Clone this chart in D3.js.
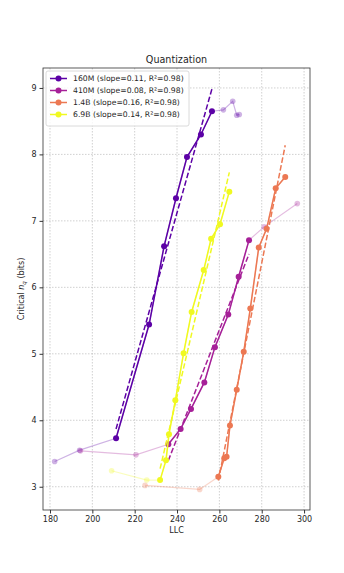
<!DOCTYPE html>
<html lang="en">
<head>
  <meta charset="UTF-8">
  <title>Quantization</title>
  <script src="https://cdn.jsdelivr.net/npm/d3@7"></script>
  <style>
    body{ margin:0; background:#fff; }
    svg text{ font-family:"DejaVu Sans", sans-serif; fill:#262626; }
    .grid line{ stroke:#b0b0b0; stroke-width:.6; stroke-dasharray:1.5,1.5; }
    .axis path, .axis line{ stroke:#333; }
  </style>
</head>
<body>
  <svg id="chart"></svg>
  <script>
    // series labels / legend
    const models = ["160M", "410M", "1.4B", "6.9B"];
    const slopes = ["0.11", "0.08", "0.16", "0.14"];
    const r2s = ["0.98", "0.98", "0.98", "0.98"];
    const colors = ["#5c01a6", "#a62098", "#ec7853", "#f0f921"];
    const xTicks = [180, 200, 220, 240, 260, 280, 300];
    const yTicks = [3, 4, 5, 6, 7, 8, 9];

    // 160M
    const low160Llc = [182.2, 194.0], low160Bits = [3.38, 3.55];
    const llc160 = [211.2, 226.8, 233.9, 239.5, 244.7, 251.3, 256.5];
    const bits160 = [3.73, 5.44, 6.62, 7.34, 7.96, 8.30, 8.65];
    const high160Llc = [261.9, 266.3, 268.2, 269.4], high160Bits = [8.67, 8.80, 8.59, 8.60];
    // 410M
    const low410Llc = [194.4, 220.6], low410Bits = [3.54, 3.48];
    const llc410 = [235.9, 241.7, 246.6, 252.9, 257.9, 264.2, 269.1, 274.0];
    const bits410 = [3.64, 3.87, 4.17, 4.57, 5.10, 5.59, 6.16, 6.71];
    const high410Llc = [281.1, 296.8], high410Bits = [6.91, 7.26];
    // 1.4B
    const low14Llc = [224.9, 250.7], low14Bits = [3.02, 2.96];
    const llc14 = [259.5, 262.3, 263.4, 265.0, 268.2, 271.5, 274.6, 278.6, 282.3, 286.6, 291.1];
    const bits14 = [3.15, 3.43, 3.45, 3.92, 4.46, 5.03, 5.68, 6.60, 6.88, 7.49, 7.66];
    const high14Llc = [], high14Bits = [];
    // 6.9B
    const low69Llc = [209.1, 225.7], low69Bits = [3.24, 3.10];
    const llc69 = [232.0, 234.8, 236.2, 239.2, 243.1, 246.9, 252.6, 256.1, 260.3, 264.7];
    const bits69 = [3.10, 3.40, 3.79, 4.30, 5.01, 5.63, 6.26, 6.73, 6.95, 7.44];
    const high69Llc = [], high69Bits = [];

    const zip = (a, b) => a.map((v, i) => [v, b[i]]);
    const series = [
      { low: zip(low160Llc, low160Bits), main: zip(llc160, bits160), high: zip(high160Llc, high160Bits) },
      { low: zip(low410Llc, low410Bits), main: zip(llc410, bits410), high: zip(high410Llc, high410Bits) },
      { low: zip(low14Llc, low14Bits), main: zip(llc14, bits14), high: zip(high14Llc, high14Bits) },
      { low: zip(low69Llc, low69Bits), main: zip(llc69, bits69), high: zip(high69Llc, high69Bits) }
    ];

    const W = 344, H = 573;
    const margin = { top: 68, right: 34, bottom: 63, left: 43 };
    const width = W - margin.left - margin.right;
    const height = H - margin.top - margin.bottom;

    const svg = d3.select("#chart").attr("width", W).attr("height", H);
    const g = svg.append("g").attr("transform", `translate(${margin.left},${margin.top})`);

    const x = d3.scaleLinear().domain([176.7, 302.8]).range([0, width]);
    const y = d3.scaleLinear().domain([2.65, 9.3]).range([height, 0]);

    // grid
    const grid = g.append("g").attr("class", "grid");
    grid.selectAll(".gx").data(xTicks).enter().append("line")
      .attr("x1", d => x(d)).attr("x2", d => x(d)).attr("y1", 0).attr("y2", height);
    grid.selectAll(".gy").data(yTicks).enter().append("line")
      .attr("y1", d => y(d)).attr("y2", d => y(d)).attr("x1", 0).attr("x2", width);

    const line = d3.line().x(d => x(d[0])).y(d => y(d[1]));

    // faded full trajectories
    series.forEach((s, i) => {
      const all = s.low.concat(s.main, s.high);
      g.append("path").datum(all)
        .attr("d", line).attr("fill", "none")
        .attr("stroke", colors[i]).attr("stroke-width", 1.2).attr("opacity", 0.3);
      g.append("g").selectAll("circle").data(s.low.concat(s.high)).enter().append("circle")
        .attr("cx", d => x(d[0])).attr("cy", d => y(d[1])).attr("r", 2.8)
        .attr("fill", colors[i]).attr("opacity", 0.3);
    });

    // solid parts + regression fit
    series.forEach((s, i) => {
      const xs = s.main.map(d => d[0]), ys = s.main.map(d => d[1]);
      const mx = d3.mean(xs), my = d3.mean(ys);
      const b = d3.sum(xs, (v, k) => (v - mx) * (ys[k] - my)) / d3.sum(xs, v => (v - mx) ** 2);
      const x0 = d3.min(xs), x1 = d3.max(xs);
      const fit = [[x0, my + b * (x0 - mx)], [x1, my + b * (x1 - mx)]];

      g.append("path").datum(s.main)
        .attr("d", line).attr("fill", "none")
        .attr("stroke", colors[i]).attr("stroke-width", 1.5);
      g.append("g").selectAll("circle").data(s.main).enter().append("circle")
        .attr("cx", d => x(d[0])).attr("cy", d => y(d[1])).attr("r", 3)
        .attr("fill", colors[i]);
      g.append("path").datum(fit)
        .attr("d", line).attr("fill", "none")
        .attr("stroke", colors[i]).attr("stroke-width", 1.5)
        .attr("stroke-dasharray", "5.5,2.4");
    });

    // axes
    g.append("g").attr("class", "axis")
      .attr("transform", `translate(0,${height})`)
      .call(d3.axisBottom(x).tickValues(xTicks).tickFormat(d3.format("d")).tickSize(3.5).tickPadding(3))
      .call(a => a.selectAll("text").attr("font-size", 8));
    g.append("g").attr("class", "axis")
      .call(d3.axisLeft(y).tickValues(yTicks).tickFormat(d3.format("d")).tickSize(3.5).tickPadding(3))
      .call(a => a.selectAll("text").attr("font-size", 8));
    g.append("rect").attr("width", width).attr("height", height)
      .attr("fill", "none").attr("stroke", "#333").attr("stroke-width", 0.8);
    g.selectAll(".axis path.domain").remove();

    // title and labels
    svg.append("text").attr("x", margin.left + width / 2).attr("y", 63)
      .attr("text-anchor", "middle").attr("font-size", 9.6).text("Quantization");
    svg.append("text").attr("x", margin.left + width / 2).attr("y", 533)
      .attr("text-anchor", "middle").attr("font-size", 8).text("LLC");
    const yl = svg.append("text").attr("text-anchor", "middle").attr("font-size", 8)
      .attr("transform", `translate(24,${margin.top + height / 2}) rotate(-90)`);
    yl.append("tspan").text("Critical ");
    yl.append("tspan").attr("font-style", "italic").text("n");
    yl.append("tspan").attr("font-style", "italic").attr("font-size", 5.6).attr("dy", 2).text("q");
    yl.append("tspan").attr("dy", -2).text(" (bits)");

    // legend
    const lg = svg.append("g").attr("transform", "translate(46,71)");
    lg.append("rect").attr("width", 143).attr("height", 55).attr("rx", 2)
      .attr("fill", "#fff").attr("fill-opacity", 0.8).attr("stroke", "#d0d0d0").attr("stroke-width", 0.8);
    models.forEach((m, i) => {
      const row = lg.append("g").attr("transform", `translate(0,${7.5 + i * 12})`);
      row.append("line").attr("x1", 4).attr("x2", 21).attr("stroke", colors[i]).attr("stroke-width", 1.5);
      row.append("circle").attr("cx", 12.5).attr("r", 3).attr("fill", colors[i]);
      row.append("text").attr("x", 27).attr("dy", "0.35em").attr("font-size", 7.7)
        .text(`${m} (slope=${slopes[i]}, R²=${r2s[i]})`);
    });
  </script>
</body>
</html>
